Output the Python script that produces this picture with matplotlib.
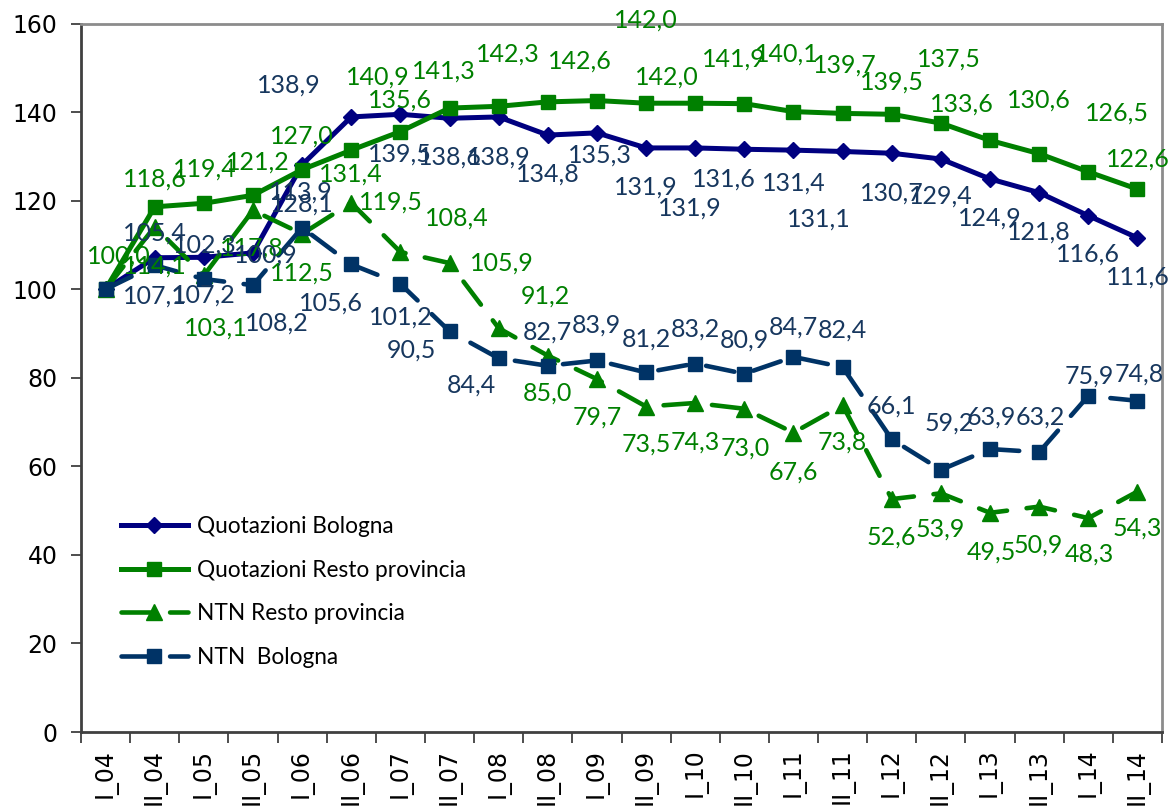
import matplotlib
matplotlib.use('Agg')
import matplotlib.pyplot as plt

# ---------------- data ----------------
categories = ['I_04', 'II_04', 'I_05', 'II_05', 'I_06', 'II_06', 'I_07', 'II_07',
              'I_08', 'II_08', 'I_09', 'II_09', 'I_10', 'II_10', 'I_11', 'II_11',
              'I_12', 'II_12', 'I_13', 'II_13', 'I_14', 'II_14']

quot_bologna = [100.0, 107.1, 107.2, 108.2, 128.1, 138.9, 139.5, 138.6, 138.9, 134.8, 135.3,
                131.9, 131.9, 131.6, 131.4, 131.1, 130.7, 129.4, 124.9, 121.8, 116.6, 111.6]
quot_resto = [100.0, 118.6, 119.4, 121.2, 127.0, 131.4, 135.6, 140.9, 141.3, 142.3, 142.6,
              142.0, 142.0, 141.9, 140.1, 139.7, 139.5, 137.5, 133.6, 130.6, 126.5, 122.6]
ntn_resto = [100.0, 114.1, 103.1, 117.8, 112.5, 119.5, 108.4, 105.9, 91.2, 85.0, 79.7,
             73.5, 74.3, 73.0, 67.6, 73.8, 52.6, 53.9, 49.5, 50.9, 48.3, 54.3]
ntn_bologna = [100.0, 105.4, 102.3, 100.9, 113.9, 105.6, 101.2, 90.5, 84.4, 82.7, 83.9,
               81.2, 83.2, 80.9, 84.7, 82.4, 66.1, 59.2, 63.9, 63.2, 75.9, 74.8]

series_names = ['Quotazioni Bologna', 'Quotazioni Resto provincia',
                'NTN Resto provincia', 'NTN  Bologna']
yticks = [0, 20, 40, 60, 80, 100, 120, 140, 160]

# label offsets in pixels (dx, dy downward) relative to each point; None = no label
off_qb = [None, (0, 36), (0, 36), (24, 68), (0, 37), (-62, -34), (0, 38), (0, 37), (0, 38),
          (0, 37), (3, 20), (0, 37), (-5, 58), (-20, 28), (0, 31), (-24, 66), (0, 38),
          (0, 35), (0, 37), (0, 37), (0, 36), (0, 37)]
off_qr = [(13, -35), (0, -30), (1, -36), (5, -35), (0, -36), (0, 22), (0, -33), (-72, -33),
          (-55, -37), (-40, -50), (-17, -41), (0, -85), (-28, -28), (-11, -47), (-7, -60),
          (2, -50), (0, -34), (8, -66), (-28, -38), (0, -56), (29, -61), (0, -32)]
off_nr = [None, (0, 37), (12, 51), (-1, 36), (0, 37), (40, -3), (56, -36), (52, -2),
          (47, -34), (0, 35), (0, 36), (0, 36), (0, 37), (1, 37), (0, 37), (0, 35), (0, 36),
          (-1, 34), (1, 37), (-1, 36), (1, 34), (0, 35)]
off_nb = [None, (0, -34), (1, -36), (13, -32), (-1, -38), (-20, 37), (0, 31), (-38, 17),
          (-27, 25), (0, -36), (-1, -37), (0, -35), (0, -37), (0, -36), (0, -32), (0, -39),
          (0, -35), (8, -49), (1, -34), (1, -37), (1, -22), (2, -29)]

# ---------------- style ----------------
C_NAVY = '#000080'
C_GREEN = '#008000'
C_DBLUE = '#003366'
C_LBL_BLUE = '#17375E'
LBL_FONT = ['Lato', 'DejaVu Sans']

fig = plt.figure(figsize=(11.74, 8.07), dpi=100)
ax = fig.add_axes([81 / 1174, 1 - 732 / 807, 1081 / 1174, (732 - 23.5) / 807])

x = list(range(len(categories)))
dash = (0, (6.3, 4.3))

ax.plot(x, quot_bologna, color=C_NAVY, lw=3.6, marker='D', ms=8.5, zorder=2,
        solid_joinstyle='round', label=series_names[0])
ax.plot(x, quot_resto, color=C_GREEN, lw=3.6, marker='s', ms=10.5, zorder=3,
        solid_joinstyle='round', label=series_names[1])
ax.plot(x, ntn_resto, color=C_GREEN, lw=3.3, ls=dash, dash_capstyle='round',
        marker='^', ms=11, zorder=4, label=series_names[2])
ax.plot(x, ntn_bologna, color=C_DBLUE, lw=3.3, ls=dash, dash_capstyle='round',
        marker='s', ms=10.5, zorder=5, label=series_names[3])


def fmt(v):
    return f'{v:.1f}'.replace('.', ',')


def add_labels(vals, offs, color):
    for xi, v, off in zip(x, vals, offs):
        if off is None:
            continue
        dx, dy = off
        ax.annotate(fmt(v), (xi, v), xytext=(dx * 0.72, -dy * 0.72),
                    textcoords='offset points', ha='center', va='center_baseline',
                    color=color, fontsize=18, family=LBL_FONT, zorder=10)


add_labels(quot_bologna, off_qb, C_LBL_BLUE)
add_labels(quot_resto, off_qr, C_GREEN)
add_labels(ntn_resto, off_nr, C_GREEN)
add_labels(ntn_bologna, off_nb, C_LBL_BLUE)

# axes
ax.set_xlim(-0.5, len(categories) - 0.5)
ax.set_ylim(0, 160)
ax.set_yticks(yticks)
ax.set_yticklabels([str(t) for t in yticks], fontsize=17, family='DejaVu Sans')
ax.set_xticks(x)
ax.set_xticklabels(categories, rotation=90, fontsize=17, family='DejaVu Sans')
ax.set_xticks([i - 0.5 for i in range(len(categories) + 1)], minor=True)
ax.tick_params(axis='x', which='major', length=0, pad=12)
ax.tick_params(axis='x', which='minor', length=8, width=1.3, color='#404040', direction='out')
ax.tick_params(axis='y', which='major', length=7, width=1.3, color='#404040', pad=10)

for s in ['left', 'bottom']:
    ax.spines[s].set_color('#404040')
    ax.spines[s].set_linewidth(2)
for s in ['top', 'right']:
    ax.spines[s].set_color('#8c8c8c')
    ax.spines[s].set_linewidth(2)

leg = ax.legend(loc='upper left', bbox_to_anchor=(0.037, 0.305), frameon=False,
                prop={'family': LBL_FONT, 'size': 16.3}, handlelength=2.95,
                handletextpad=0.4, labelspacing=1.0, borderpad=0, borderaxespad=0)

fig.savefig('out.png', dpi=100, facecolor='white')
